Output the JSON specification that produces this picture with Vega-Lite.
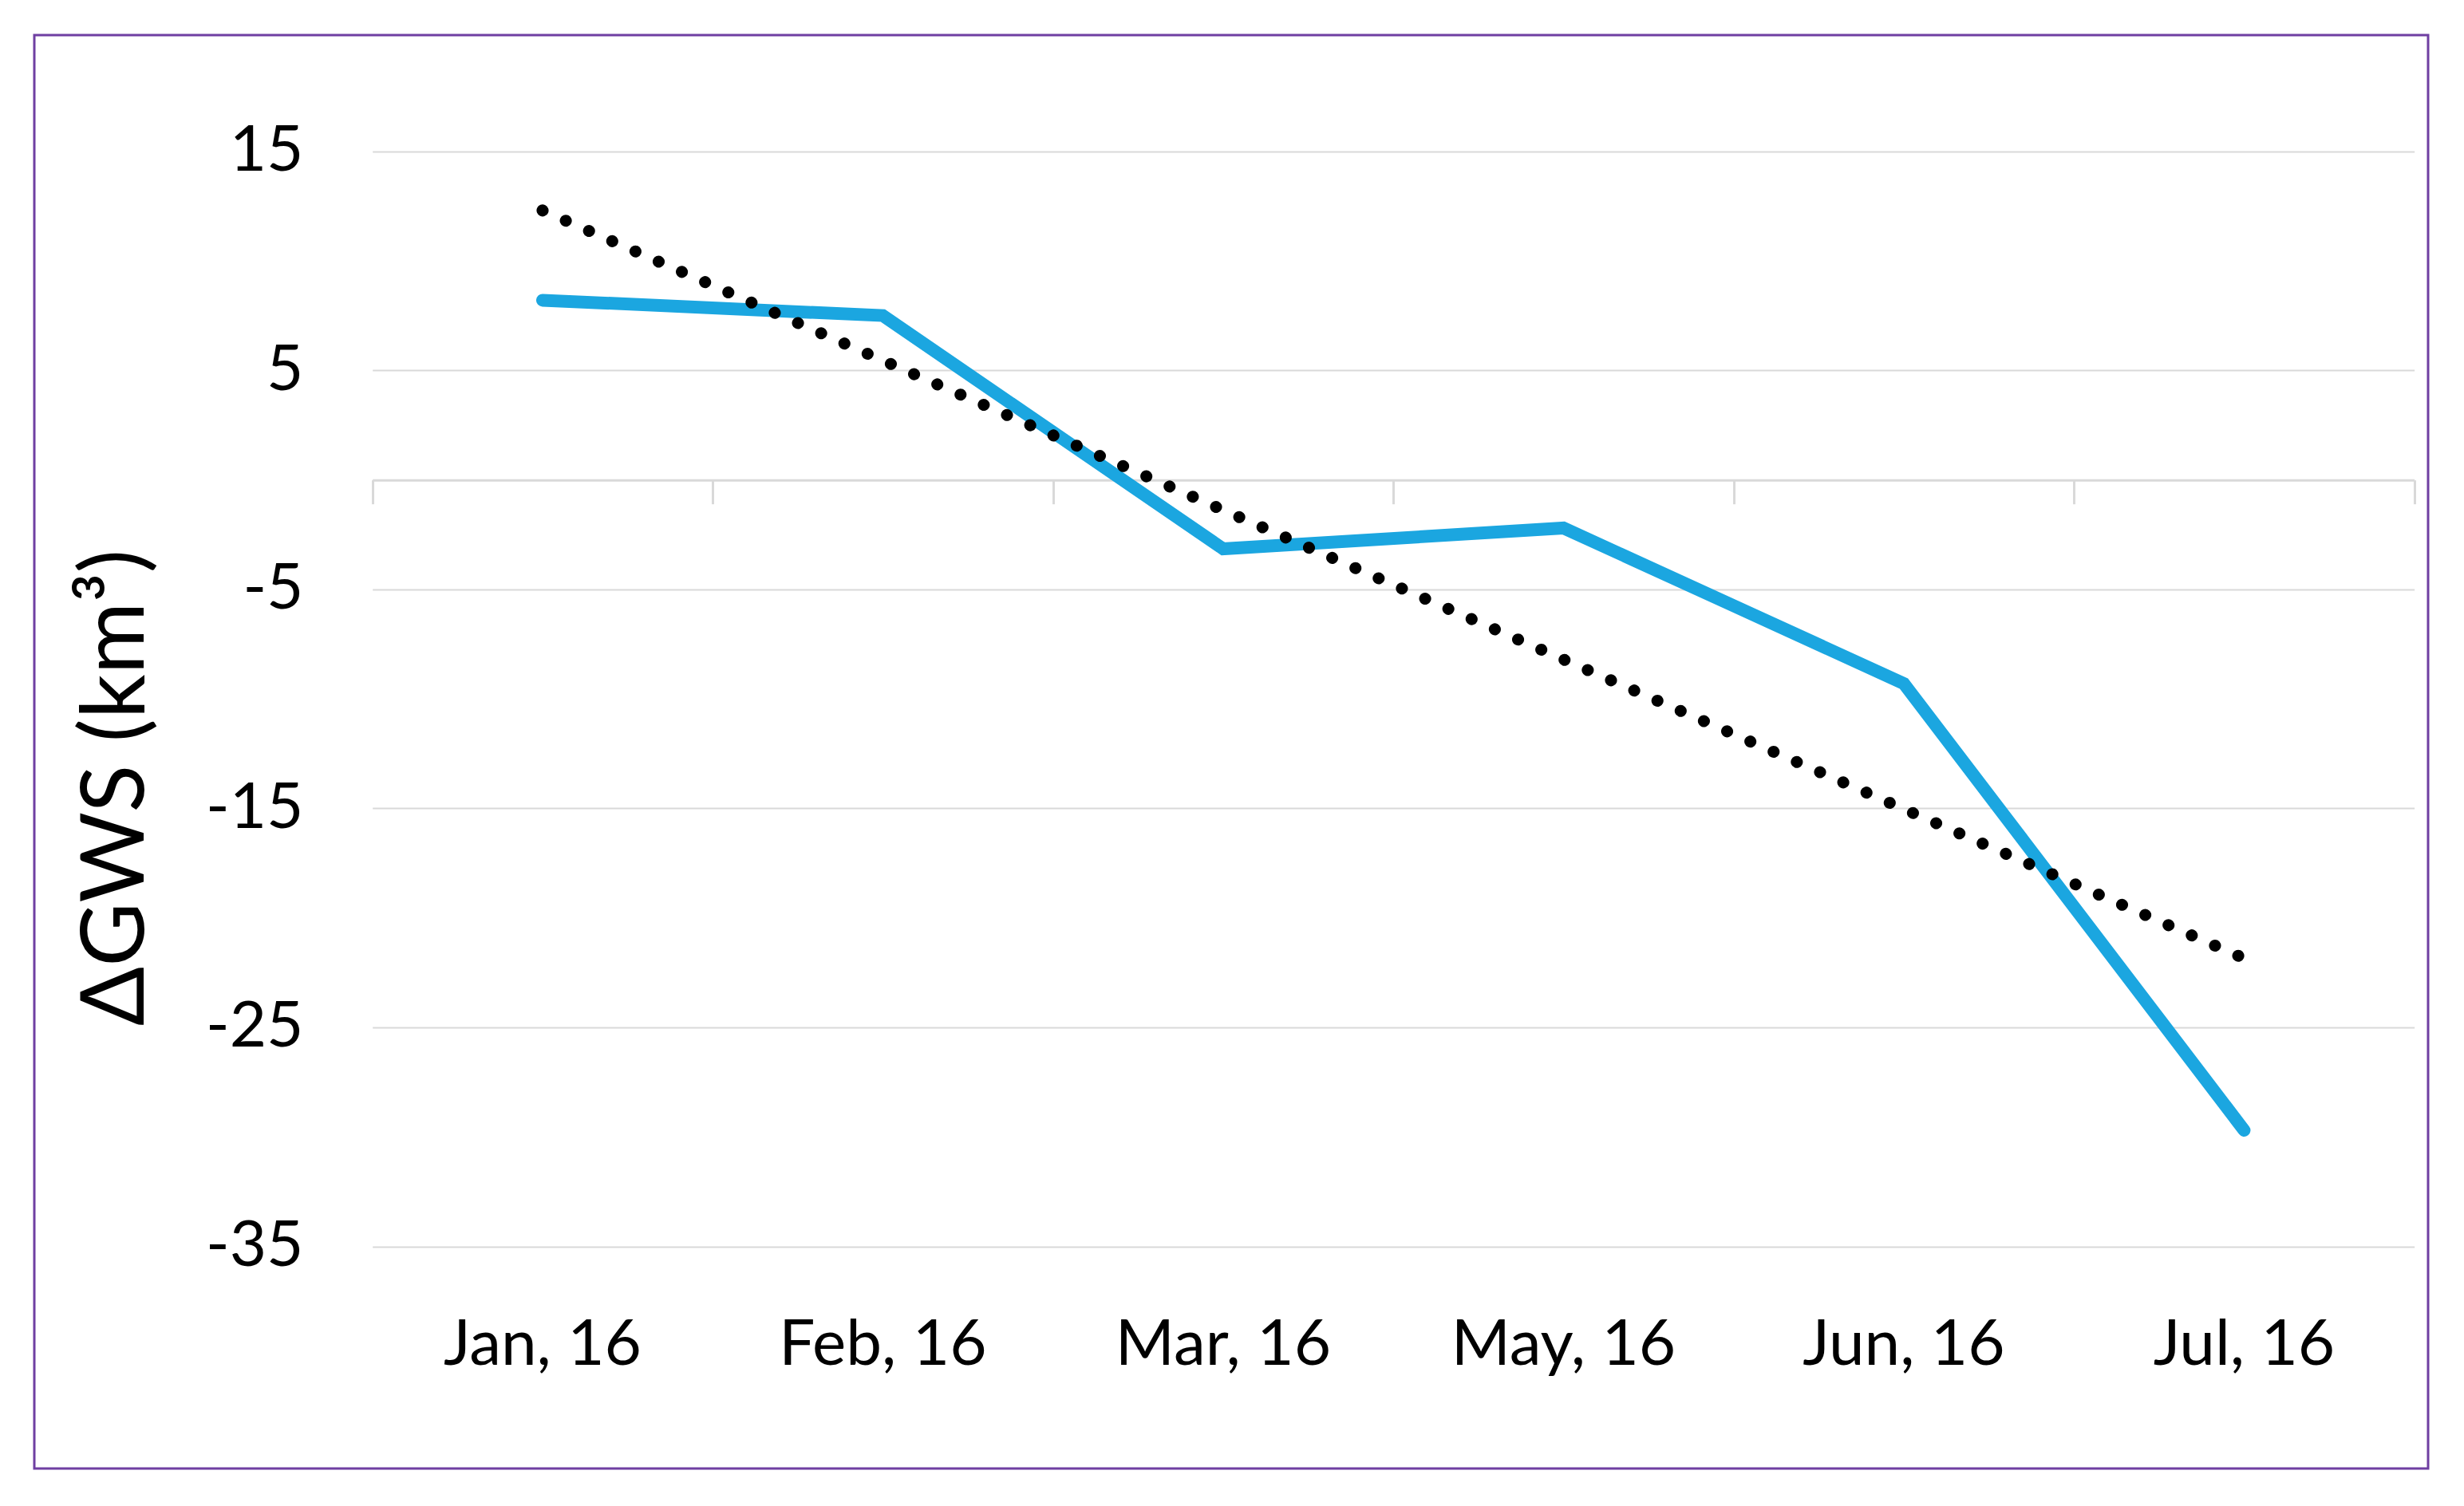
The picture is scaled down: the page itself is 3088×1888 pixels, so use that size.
{
  "$schema": "https://vega.github.io/schema/vega-lite/v6.json",
  "autosize": {"type": "none"},
  "width": 3000,
  "height": 1797,
  "padding": {"left": 43, "top": 44, "right": 45, "bottom": 47},
  "background": "white",
  "config": {
    "view": {"stroke": "#6F3FA2", "strokeWidth": 3},
    "font": "Lato"
  },
  "data": {
    "values": [
      {"month": "Jan, 16", "series": "GWS", "value": 8.2},
      {"month": "Feb, 16", "series": "GWS", "value": 7.5},
      {"month": "Mar, 16", "series": "GWS", "value": -3.15},
      {"month": "May, 16", "series": "GWS", "value": -2.2},
      {"month": "Jun, 16", "series": "GWS", "value": -9.3},
      {"month": "Jul, 16", "series": "GWS", "value": -29.7},
      {"month": "Jan, 16", "series": "trend", "value": 12.3},
      {"month": "Feb, 16", "series": "trend", "value": 5.45},
      {"month": "Mar, 16", "series": "trend", "value": -1.38},
      {"month": "May, 16", "series": "trend", "value": -8.2},
      {"month": "Jun, 16", "series": "trend", "value": -15.03},
      {"month": "Jul, 16", "series": "trend", "value": -21.85}
    ]
  },
  "encoding": {
    "y": {
      "field": "value",
      "type": "quantitative",
      "scale": {"domain": [-35, 15], "range": [1518.5, 145.7], "nice": false, "zero": false},
      "axis": {
        "title": "ΔGWS (km³)",
        "values": [-35, -25, -15, -5, 5, 15],
        "labelExpr": "toString(datum.value)",
        "grid": true,
        "gridColor": "#D9D9D9",
        "gridWidth": 2,
        "domain": false,
        "ticks": false,
        "tickSize": 0,
        "labelPadding": 0,
        "offset": -337,
        "labelFont": "Lato",
        "labelFontSize": 80,
        "labelColor": "#000000",
        "titleFont": "Lato",
        "titleFontSize": 110,
        "titleFontWeight": "normal",
        "titleColor": "#000000",
        "titleAngle": 270,
        "titleAlign": "center",
        "titleBaseline": "middle",
        "titleX": -234,
        "titleY": 943
      }
    }
  },
  "layer": [
    {
      "transform": [{"filter": "datum.series === 'GWS'"}],
      "mark": {"type": "line", "color": "#1BA6E0", "strokeWidth": 16, "strokeCap": "round", "strokeJoin": "miter"},
      "encoding": {
        "x": {
          "field": "month",
          "type": "ordinal",
          "sort": ["Jan, 16", "Feb, 16", "Mar, 16", "May, 16", "Jun, 16", "Jul, 16"],
          "scale": {"type": "band", "range": [423.7, 2982.7], "paddingInner": 0, "paddingOuter": 0},
          "axis": {
            "orient": "bottom",
            "title": null,
            "domain": false,
            "ticks": false,
            "tickSize": 0,
            "grid": false,
            "labelPadding": 0,
            "labelBaseline": "alphabetic",
            "labelAngle": 0,
            "labelOverlap": false,
            "labelLimit": 0,
            "offset": -131,
            "labelFont": "Lato",
            "labelFontSize": 80,
            "labelColor": "#000000"
          }
        }
      }
    },
    {
      "transform": [{"filter": "datum.series === 'trend'"}],
      "mark": {"type": "line", "color": "#000000", "strokeWidth": 15, "strokeCap": "round", "strokeDash": [0.1, 31.7]},
      "encoding": {
        "x": {
          "field": "month",
          "type": "ordinal",
          "sort": ["Jan, 16", "Feb, 16", "Mar, 16", "May, 16", "Jun, 16", "Jul, 16"],
          "scale": {"type": "band", "range": [423.7, 2982.7], "paddingInner": 0, "paddingOuter": 0},
          "axis": {
            "orient": "bottom",
            "title": null,
            "labels": false,
            "domain": true,
            "domainColor": "#D9D9D9",
            "domainWidth": 3,
            "ticks": true,
            "tickBand": "extent",
            "tickSize": 30,
            "tickColor": "#D9D9D9",
            "tickWidth": 3,
            "grid": false,
            "offset": -1239.3
          }
        }
      }
    }
  ],
  "resolve": {"axis": {"x": "independent"}}
}
